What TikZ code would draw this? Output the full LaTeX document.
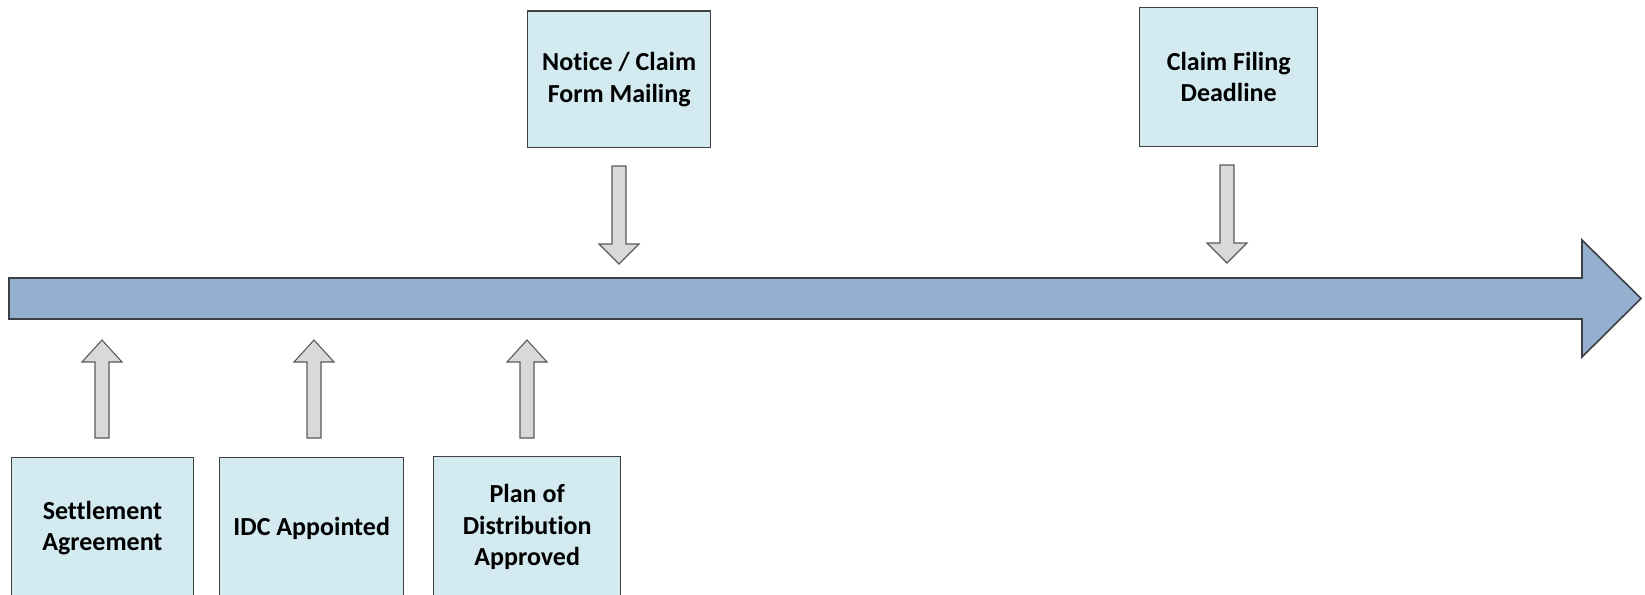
\documentclass[tikz,border=0pt]{standalone}
\usepackage{fontspec}
\setmainfont{Carlito}[RawFeature={-liga;-clig;-dlig}]
\definecolor{boxfill}{RGB}{210,234,240}
\definecolor{boxline}{RGB}{64,64,64}
\definecolor{mainfill}{RGB}{149,176,207}
\definecolor{mainline}{RGB}{60,64,70}
\definecolor{smallfill}{RGB}{217,217,217}
\definecolor{smallline}{RGB}{90,90,90}
\tikzset{
  evbox/.style={draw=boxline, line width=1.4pt, fill=boxfill, align=center,
    font=\fontsize{26pt}{31.5pt}\selectfont\bfseries, inner sep=0pt, anchor=north west},
  blockarr/.style={draw=smallline, line width=1.1pt, fill=smallfill, line join=miter},
  mainarr/.style={draw=mainline, line width=1.6pt, fill=mainfill, line join=miter}
}
\begin{document}
\begin{tikzpicture}[x=1pt,y=-1pt]
\useasboundingbox (0,0) rectangle (1645,594);
% main timeline arrow
\coordinate (start) at (9,298.5);
\coordinate (tip) at (1641,298.5);
\draw[mainarr] (9,278) -- (1582,278) -- (1582,240) -- (tip) -- (1582,357) -- (1582,319) -- (9,319) -- cycle;
% boxes
\node[evbox, minimum width=182.5pt, minimum height=141pt] (sa) at (10.5,457) {Settlement\\Agreement};
\node[evbox, minimum width=184pt, minimum height=141pt] (idc) at (219,457) {IDC Appointed};
\node[evbox, minimum width=187pt, minimum height=141pt] (pod) at (433,456) {Plan of\\Distribution\\Approved};
\node[evbox, minimum width=183pt, minimum height=136.5pt] (ncf) at (527,10.5) {Notice / Claim\\Form Mailing};
\node[evbox, minimum width=178pt, minimum height=139pt] (cfd) at (1139,7) {Claim Filing\\Deadline};
% up arrows
\foreach \n/\cx in {a1/102, a2/314, a3/527}{
  \coordinate (\n) at (\cx,438);
  \draw[blockarr] (\n) ++(-7,0) -- ++(0,-76) -- ++(-13,0) -- ++(20,-22) -- ++(20,22) -- ++(-13,0) -- ++(0,76) -- cycle;
}
% down arrows
\foreach \n/\cx/\ty in {d1/619/166, d2/1227/165}{
  \coordinate (\n) at (\cx,\ty);
  \draw[blockarr] (\n) ++(-7,0) -- ++(0,78) -- ++(-13,0) -- ++(20,20) -- ++(20,-20) -- ++(-13,0) -- ++(0,-78) -- cycle;
}
\end{tikzpicture}
\end{document}
